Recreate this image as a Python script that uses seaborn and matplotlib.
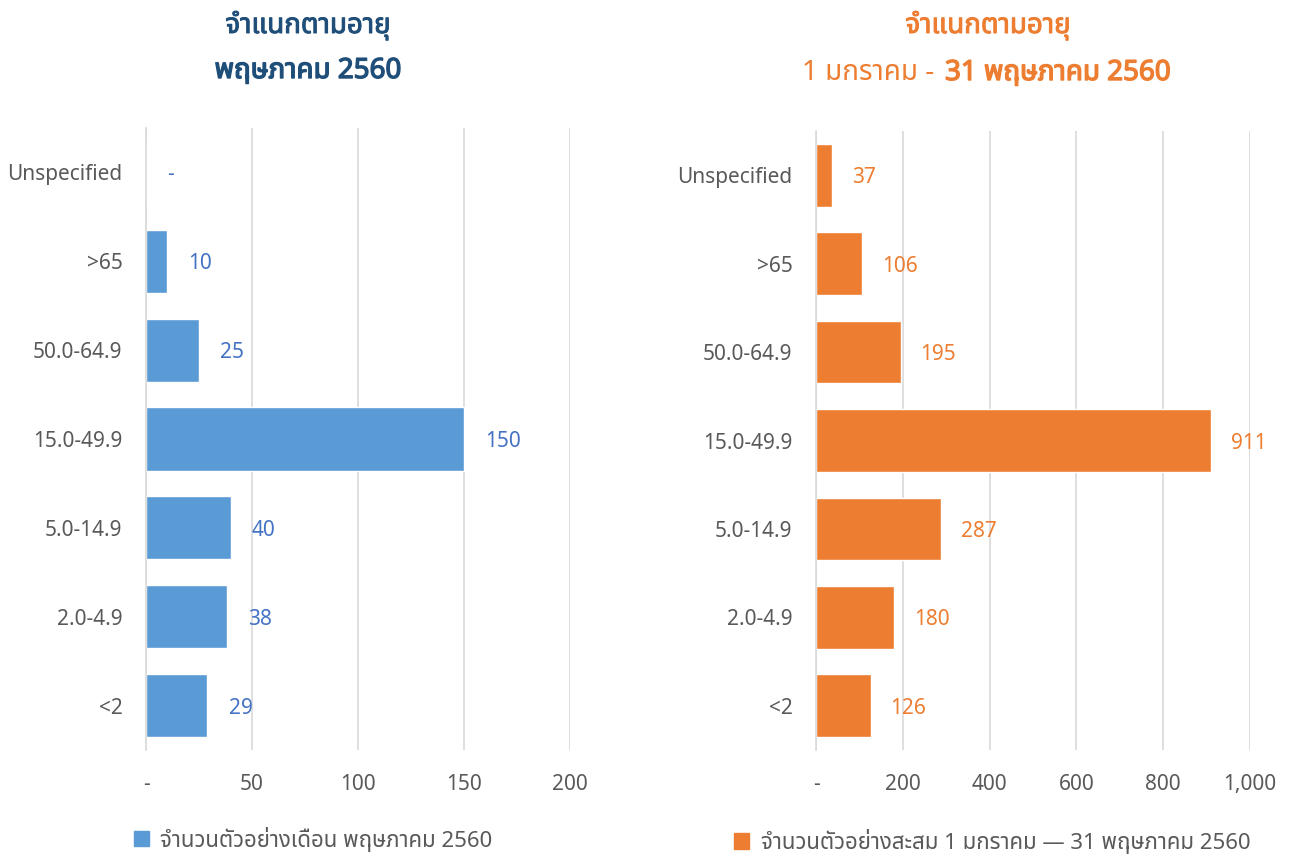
import matplotlib
matplotlib.use('Agg')
import matplotlib.pyplot as plt
import matplotlib.font_manager as fm
import matplotlib.patheffects as pe
import seaborn as sns
import pandas as pd
from matplotlib.ticker import FuncFormatter
from matplotlib.patches import Patch

sns.set_style('white')

names = sorted(set(f.name for f in fm.fontManager.ttflist))
thai_fonts = ['Noto Sans Thai', 'Noto Sans Thai Looped', 'Loma', 'Garuda', 'Sarabun',
              'Noto Sans', 'DejaVu Sans']
fams = [f for f in thai_fonts if f in names] or ['DejaVu Sans']
plt.rcParams['font.family'] = fams
bold_fams = ['Noto Sans'] + [f for f in fams if f != 'Noto Sans']

# data
ages = ['Unspecified', '>65', '50.0-64.9', '15.0-49.9', '5.0-14.9', '2.0-4.9', '<2']
may_counts = [0, 10, 25, 150, 40, 38, 29]
cum_counts = [37, 106, 195, 911, 287, 180, 126]

left_title = 'จำแนกตามอายุ'
left_sub = 'พฤษภาคม 2560'
right_sub_a = '1 มกราคม -'
right_sub_b = '31 พฤษภาคม 2560'
left_legend = 'จำนวนตัวอย่างเดือน พฤษภาคม 2560'
right_legend = 'จำนวนตัวอย่างสะสม 1 มกราคม — 31 พฤษภาคม 2560'

blue = '#5B9BD5'
blue_lbl = '#4472C4'
orange = '#ED7D31'
navy = '#1F4E79'
grey = '#595959'

W, H = 1291, 857
fig = plt.figure(figsize=(W / 100, H / 100), dpi=100)


def px_axes(x0, x1, y0, y1):
    return fig.add_axes([x0 / W, 1 - y1 / H, (x1 - x0) / W, (y1 - y0) / H])


def thousands(v, pos):
    if v == 0:
        return '-'
    return f'{v:,.0f}'


def stroke(c, w):
    return [pe.withStroke(linewidth=w, foreground=c)]


ax1 = px_axes(146, 570, 128, 750)
ax2 = px_axes(816, 1250, 131, 750)

df1 = pd.DataFrame({'age': ages, 'n': may_counts})
df2 = pd.DataFrame({'age': ages, 'n': cum_counts})

sns.barplot(data=df1, y='age', x='n', order=ages, color=blue, saturation=1,
            width=0.71, ax=ax1)
sns.barplot(data=df2, y='age', x='n', order=ages, color=orange, saturation=1,
            width=0.71, ax=ax2)

for ax, vals, xmax, step, lc, off in [(ax1, may_counts, 200, 50, blue_lbl, 10),
                                      (ax2, cum_counts, 1000, 200, orange, 46)]:
    ax.set_xlim(0, xmax)
    ax.set_xticks(range(0, xmax + 1, step))
    ax.xaxis.set_major_formatter(FuncFormatter(thousands))
    ax.grid(axis='x', color='#D9D9D9', linewidth=1.2)
    ax.set_axisbelow(True)
    for s in ['top', 'right', 'bottom']:
        ax.spines[s].set_visible(False)
    ax.spines['left'].set_color('#D9D9D9')
    ax.spines['left'].set_linewidth(1.2)
    ax.set_xlabel('')
    ax.set_ylabel('')
    ax.tick_params(axis='both', length=0, labelsize=15, colors=grey, pad=17)
    for i, v in enumerate(vals):
        txt = '-' if v == 0 else f'{v:,}'
        ax.text(v + off, i, txt, va='center_baseline', ha='left', fontsize=15, color=lc)

# titles
fig.text(308 / W, 1 - 25 / H, left_title, ha='center', va='center',
         fontsize=20, color=navy, path_effects=stroke(navy, 0.7))
fig.text(308 / W, 1 - 71 / H, left_sub, ha='center', va='center', family=bold_fams,
         fontsize=20, color=navy, fontweight='bold', path_effects=stroke(navy, 1.0))
fig.text(988 / W, 1 - 25 / H, left_title, ha='center', va='center',
         fontsize=20, color=orange, path_effects=stroke(orange, 0.7))
fig.text(934 / W, 1 - 73 / H, right_sub_a, ha='right', va='center',
         fontsize=20, color=orange)
fig.text(945 / W, 1 - 73 / H, right_sub_b, ha='left', va='center', family=bold_fams,
         fontsize=20, color=orange, fontweight='bold', path_effects=stroke(orange, 1.0))

# legends
fig.legend(handles=[Patch(color=blue, label=left_legend)], loc='center',
           bbox_to_anchor=(313 / W, 1 - 839 / H), frameon=False, fontsize=16,
           handlelength=0.65, handleheight=0.65, handletextpad=0.5, labelcolor=grey)
fig.legend(handles=[Patch(color=orange, label=right_legend)], loc='center',
           bbox_to_anchor=(992 / W, 1 - 841 / H), frameon=False, fontsize=16,
           handlelength=0.7, handleheight=0.7, handletextpad=0.5, labelcolor=grey)

fig.savefig('out.png', dpi=100)
